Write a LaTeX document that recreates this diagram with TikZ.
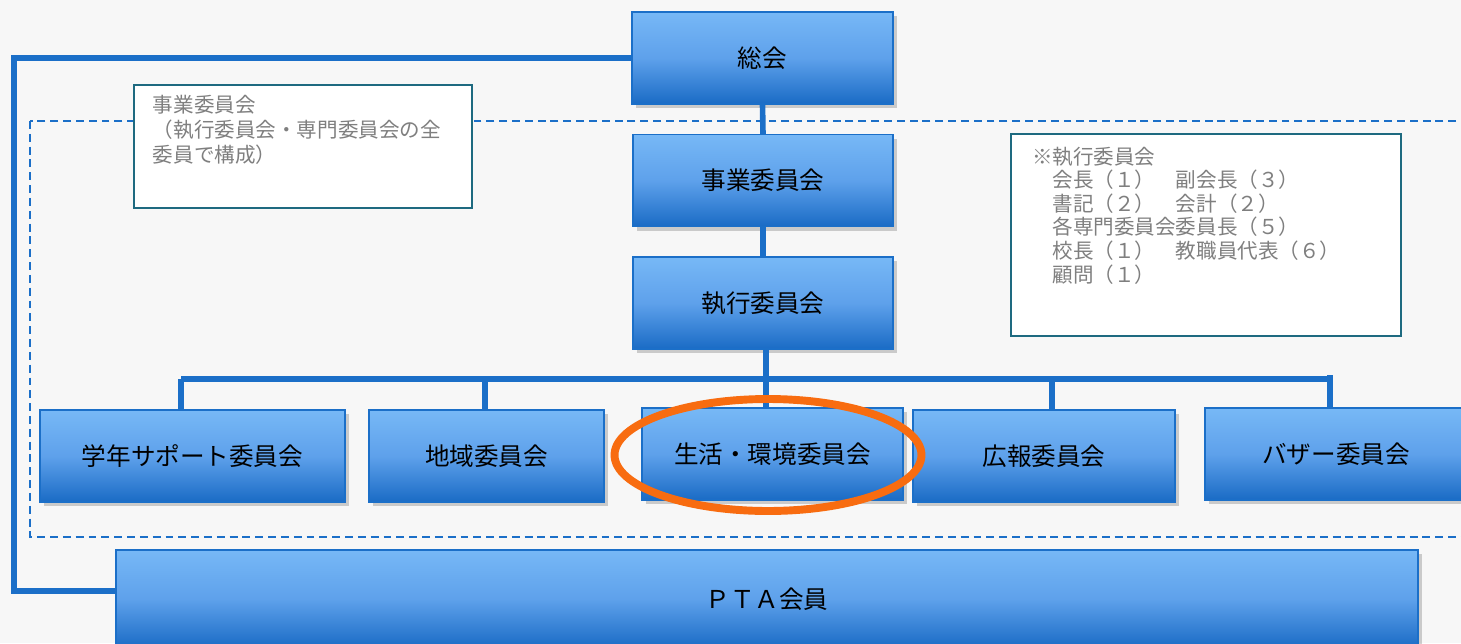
\documentclass[tikz,border=0pt]{standalone}
\usepackage{fontspec}
\newfontfamily\cjk{Noto Sans CJK JP}
\usepackage{xcolor}
\usetikzlibrary{shadows}
\definecolor{boxtop}{HTML}{77B8F6}
\definecolor{boxmid}{HTML}{5EA1EB}
\definecolor{boxbot}{HTML}{1A6BC5}
\definecolor{linkblue}{HTML}{1B6FC8}
\definecolor{noteframe}{HTML}{1E6A80}
\definecolor{notegray}{HTML}{7F7F7F}
\definecolor{ringorange}{HTML}{F86C10}
\definecolor{paper}{HTML}{F7F7F7}

\begin{document}
\begin{tikzpicture}[x=0.02cm,y=-0.02cm,outer sep=0pt]
    \tikzstyle{unit} = [rectangle, minimum height=1.84cm, text centered, draw=linkblue, line width=1pt, top color=boxtop, bottom color=boxbot, middle color=boxmid, font=\cjk\fontsize{14}{17}\selectfont, drop shadow={shadow xshift=2.5pt, shadow yshift=-2.5pt, fill=black, opacity=0.18}]
    \tikzstyle{note} = [rectangle, anchor=north west, draw=noteframe, line width=1pt, fill=white, text=notegray, font=\cjk\fontsize{11.7}{14.2}\selectfont]
    \tikzstyle{link} = [draw=linkblue, line width=3.2pt]
    \tikzstyle{zone} = [draw=linkblue, line width=1pt, dash pattern=on 4.5pt off 2.8pt]
    \fill[paper] (0,0) rectangle (1461,643);
    \useasboundingbox (0,0) rectangle (1461,643);
    % dashed frame round the committees
    \draw[zone] (30,121) rectangle (1475,537);
    % notes
    \node [note, inner xsep=0.38cm, inner ysep=0.2cm] (jnote) at (134,85)
      {\parbox[c][2.06cm][t]{6cm}{事業委員会\\（執行委員会・専門委員会の全\\委員で構成）}};
    \node [note, inner xsep=0.42cm, inner ysep=0.26cm, font=\cjk\fontsize{11.7}{13.4}\selectfont] (snote) at (1011,134)
      {\parbox[c][3.52cm][t]{6.96cm}{※執行委員会\\　会長（１）　副会長（３）\\　書記（２）　会計（２）\\　各専門委員会委員長（５）\\　校長（１）　教職員代表（６）\\　顧問（１）}};
    % boxes
    \node [unit, minimum width=5.22cm] (sokai) at (762.5,58) {総会};
    \node [unit, minimum width=5.2cm] (jigyo) at (763,180.5) {事業委員会};
    \node [unit, minimum width=5.2cm] (shikko) at (763,303) {執行委員会};
    \node [unit, minimum width=6.1cm] (gakunen) at (192.5,456) {学年サポート委員会};
    \node [unit, minimum width=4.7cm] (chiiki) at (486.5,456) {地域委員会};
    \node [unit, minimum width=5.22cm] (seikatsu) at (772.5,454) {生活・環境委員会};
    \node [unit, minimum width=5.24cm] (koho) at (1044,456) {広報委員会};
    \node [unit, minimum width=5.24cm] (bazaar) at (1336,454) {バザー委員会};
    \node [unit, minimum width=26.04cm, minimum height=1.96cm] (pta) at (767,599) {ＰＴＡ会員};
    % connectors
    \coordinate (lt) at (14,58);
    \coordinate (lb) at (14,591);
    \coordinate (b1) at (181,379);
    \coordinate (b2) at (485,379);
    \coordinate (b3) at (766,379);
    \coordinate (b4) at (1052,379);
    \coordinate (b5) at (1330,379);
    \draw[link] (sokai.west) -- (lt) -- (lb) -- (lb -| pta.west);
    \draw[link] (sokai.south) -- (jigyo.north);
    \draw[link] (jigyo.south) -- (shikko.north);
    \draw[link] (b1) -- (b5);
    \draw[link] (b1) -- (b1 |- gakunen.north);
    \draw[link] (b2) -- (b2 |- chiiki.north);
    \draw[link] (b3 |- shikko.south) -- (b3 |- seikatsu.north);
    \draw[link] (b4) -- (b4 |- koho.north);
    \draw[link] (1330,375) -- (b5 |- bazaar.north);
    % highlight
    \draw[ringorange, line width=4.5pt] (768,455) ellipse [x radius=3.07cm, y radius=1.12cm];
\end{tikzpicture}
\end{document}
